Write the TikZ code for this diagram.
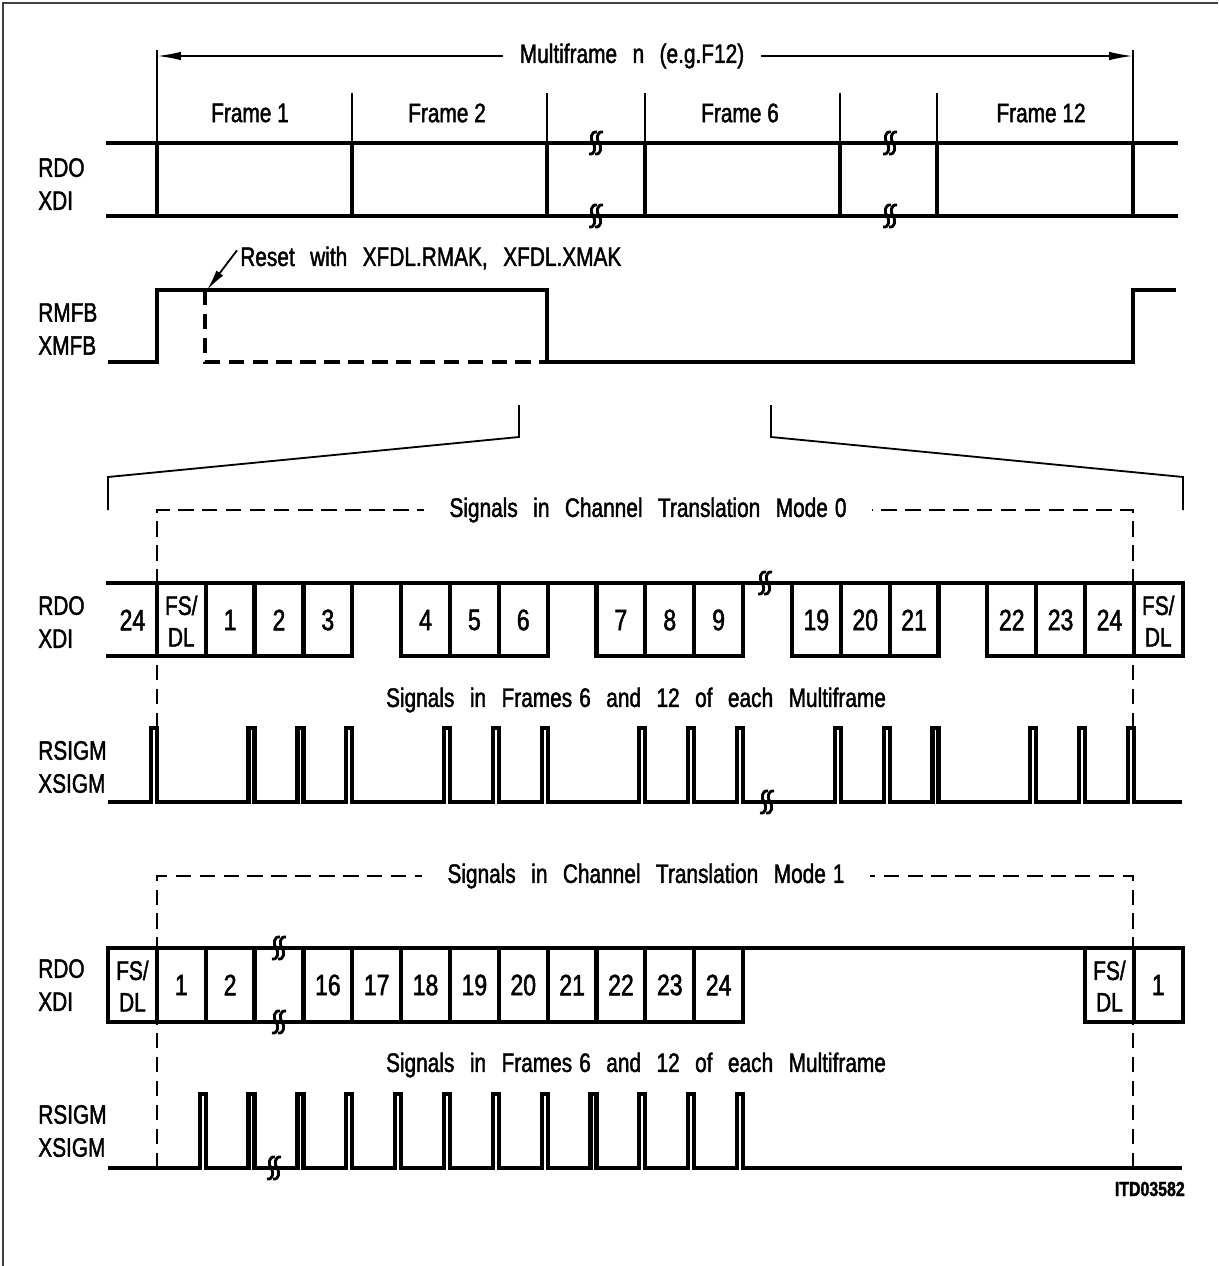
\documentclass[tikz,border=0pt]{standalone}
\usepackage{fontspec}
\setmainfont{Liberation Sans}[FakeStretch=0.78, FakeBold=1.6]
\usepackage{tikz}
\usetikzlibrary{arrows.meta}

\newcommand\nsp{\hspace{5pt}}

\tikzset{
  sigline/.style={line width=3pt},
  busline/.style={line width=3pt, line cap=rect},
  tickline/.style={line width=1.3pt},
  boxdash/.style={line width=1.3pt, dash pattern=on 11pt off 6pt},
  mfarrow/.style={tickline, -{Latex[length=17pt,width=6pt]}},
  plaintext/.style={font={\fontsize{19}{22}\selectfont}, inner sep=0pt},
  sigtext/.style={font={\fontsize{19}{22}\selectfont\spaceskip=11pt\relax}, inner sep=0pt},
  siglabel/.style={font={\fontsize{19}{23.5}\selectfont}, align=left, anchor=west, inner sep=0pt},
  slotnum/.style={font={\fontsize{21}{24}\selectfont}, inner sep=0pt},
  slotfs/.style={font={\fontsize{19}{22.5}\selectfont}, align=center, inner sep=0pt},
  brk/.pic={
    \draw[line width=2pt] (1,-11) .. controls (-5.5,-12) and (-6,-3.5) .. (-3,0) .. controls (0,3.5) and (-0.5,12) .. (-7,11);
    \draw[line width=2pt] (7,-11) .. controls (0.5,-12) and (0,-3.5) .. (3,0) .. controls (6,3.5) and (5.5,12) .. (-1,11);
  }
}

\begin{document}
\begin{tikzpicture}[x=0.025cm, y=-0.025cm]
\useasboundingbox (0,0) rectangle (1218,1266);
\draw[line width=1.2pt, black!75] (3,1266) -- (3,3) -- (1218,3);

% multiframe
\node[sigtext, inner xsep=12pt] (mf) at (632,56) {Multiframe n (e.g.F12)};
\coordinate (mfL) at (157,56);
\coordinate (mfR) at (1133,56);
\draw[mfarrow] (mf.west) -- (mfL);
\draw[mfarrow] (mf.east) -- (mfR);
\draw[tickline] (157,50) -- (157,143);
\draw[tickline] (1133,50) -- (1133,143);
\foreach \x in {352,547,645,840,937}
  \draw[tickline] (\x,93) -- (\x,143);
\node[plaintext] (fr1) at (250,113) {Frame 1};
\node[plaintext] (fr2) at (447,113) {Frame 2};
\node[plaintext] (fr6) at (740,113) {Frame 6};
\node[plaintext] (fr12) at (1041,113) {Frame 12};

% RDO / XDI frames
\node[siglabel] (rdo1) at (38,184) {RDO\\XDI};
\draw[busline] (108,143) -- (1176,143);
\draw[busline] (108,216) -- (1176,216);
\foreach \x in {157,352,547,645,840,937,1133}
  \draw[busline] (\x,143) -- (\x,216);
\pic at (596,143) {brk};
\pic at (596,216) {brk};
\pic at (890,143) {brk};
\pic at (890,216) {brk};

% RMFB / XMFB
\node[siglabel] (rmfb) at (38,329) {RMFB\\XMFB};
\draw[sigline] (108,362) -- (157,362) -- (157,290) -- (547,290) -- (547,362) -- (1133,362) -- (1133,290) -- (1176,290);
\draw[sigline, dash pattern=on 11pt off 6pt] (205,290) -- (205,362) -- (547,362);
\node[sigtext, anchor=west] (rst) at (240,258) {Reset with XFDL.RMAK, XFDL.XMAK};
\coordinate (rstTip) at (207,290);
\draw[tickline, -{Latex[length=15pt,width=6pt]}] ([shift={(-3,4)}]rst.north west) -- (rstTip);

% zoom lines
\draw[tickline] (519,405) -- (519,437) -- (108,477) -- (108,510);
\draw[tickline] (771,405) -- (771,437) -- (1183,477) -- (1183,510);

% mode 0
\node[sigtext, inner xsep=18pt] (mode0) at (648,510) {Signals in Channel Translation Mode\nsp 0};
\draw[boxdash] (157,728) -- (157,510) -- (mode0.west);
\draw[boxdash] (1133,728) -- (1133,510) -- (mode0.east);
\node[siglabel] (rdo2) at (38,622) {RDO\\XDI};
\draw[busline] (108,583) -- (1182,583);
\foreach \a/\b in {0/5,6/9,10/13,14/17,18/22}
  \draw[busline] ({108+48.85*\a},656) -- ({108+48.85*\b},656);
\foreach \k in {1,...,22}
  \draw[busline] ({108+48.85*\k},583) -- ({108+48.85*\k},656);
\foreach \k/\t in {0/24,2/1,3/2,4/3,6/4,7/5,8/6,10/7,11/8,12/9,14/19,15/20,16/21,18/22,19/23,20/24}
  \node[slotnum] (mz\k) at ({108+48.85*(\k+0.5)},620) {\t};
\node[slotfs] (mzfs1) at ({108+48.85*1.5},621) {FS/\\DL};
\node[slotfs] (mzfs21) at ({108+48.85*21.5},621) {FS/\\DL};
\pic at (765,583) {brk};
\node[sigtext] (sigz) at (636,700) {Signals in Frames\nsp 6 and 12 of each Multiframe};
\node[siglabel] (rsig1) at (38,767) {RSIGM\\XSIGM};
\draw[sigline] (108,802) \foreach \k in {1,3,4,5,7,8,9,11,12,13,15,16,17,19,20,21} {
  -- ({108+48.85*\k-6},802) -- ++(0,-74) -- ++(6,0) -- ++(0,74) } -- (1182,802);
\pic at (767,802) {brk};

% mode 1
\node[sigtext, inner xsep=18pt] (mode1) at (646,876) {Signals in Channel Translation Mode\nsp 1};
\draw[boxdash] (157,1168) -- (157,876) -- (mode1.west);
\draw[boxdash] (1133,1168) -- (1133,876) -- (mode1.east);
\node[siglabel] (rdo3) at (38,985) {RDO\\XDI};
\draw[busline] (108,948) -- (1182,948);
\foreach \a/\b in {0/13,20/22}
  \draw[busline] ({108+48.85*\a},1022) -- ({108+48.85*\b},1022);
\foreach \k in {0,...,13,20,21,22}
  \draw[busline] ({108+48.85*\k},948) -- ({108+48.85*\k},1022);
\foreach \k/\t in {1/1,2/2,4/16,5/17,6/18,7/19,8/20,9/21,10/22,11/23,12/24,21/1}
  \node[slotnum] (mo\k) at ({108+48.85*(\k+0.5)},985) {\t};
\node[slotfs] (mofs0) at ({108+48.85*0.5},986) {FS/\\DL};
\node[slotfs] (mofs20) at ({108+48.85*20.5},986) {FS/\\DL};
\pic at (279,948) {brk};
\pic at (279,1022) {brk};
\node[sigtext] (sigo) at (636,1065) {Signals in Frames\nsp 6 and 12 of each Multiframe};
\node[siglabel] (rsig2) at (38,1131) {RSIGM\\XSIGM};
\draw[sigline] (108,1168) \foreach \k in {2,...,13} {
  -- ({108+48.85*\k-6},1168) -- ++(0,-74) -- ++(6,0) -- ++(0,74) } -- (1182,1168);
\pic at (274,1168) {brk};

\node[font={\bfseries\fontsize{14.5}{16}\selectfont}, anchor=east, inner sep=0pt] (itd) at (1185,1189) {ITD03582};
\end{tikzpicture}
\end{document}
